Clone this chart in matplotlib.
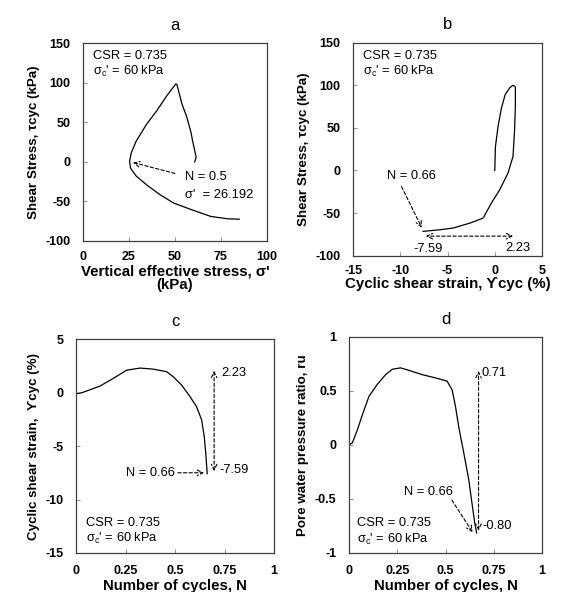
import matplotlib
matplotlib.use("Agg")
import matplotlib.pyplot as plt

plt.rcParams['font.family'] = ['Liberation Sans', 'DejaVu Sans']
plt.rcParams['axes.unicode_minus'] = False

# panel a: stress path
sig_a = [60.8, 61.6, 59.7, 58.8, 56.6, 53.9, 52.0, 51.1, 50.5, 45.6, 40.1, 34.6, 29.0,
         26.3, 25.4, 25.9, 29.0, 34.6, 41.9, 49.3, 58.5, 69.5, 78.7, 85.0]
tau_a = [0, 6, 26, 37, 56, 73, 90, 98, 98.5, 83.5, 64.4, 47.5, 26.3,
         11.4, 0.8, -8, -18, -29, -41.5, -52, -60, -69, -72, -72.5]

# panel b: stress-strain
gam_b = [0, 0.07, 0.35, 0.7, 1.1, 1.58, 1.93, 2.18, 2.18, 2.1, 1.93, 1.4, 0.53, -0.35,
         -1.23, -2.6, -4.4, -5.8, -7.59]
tau_b = [0, 28, 52, 73, 89, 97, 100, 98, 75, 48, 16.5, -3, -22.5, -38,
         -55.8, -61.6, -67.5, -69.5, -71.4]

# panel c: strain vs cycles
n_c = [0, 0.03, 0.054, 0.121, 0.188, 0.255, 0.323, 0.39, 0.457, 0.49, 0.533, 0.575,
       0.608, 0.634, 0.647, 0.655, 0.662]
gam_c = [-0.1, 0.0, 0.16, 0.62, 1.34, 2.1, 2.3, 2.2, 1.96, 1.5, 0.7, -0.37,
         -1.3, -2.55, -4.1, -5.7, -7.59]

# panel d: pore pressure ratio vs cycles
n_d = [0, 0.017, 0.043, 0.069, 0.103, 0.146, 0.189, 0.224, 0.267, 0.31, 0.379, 0.448,
       0.508, 0.534, 0.551, 0.568, 0.594, 0.62, 0.637, 0.651, 0.661]
ru_d = [0, 0.02, 0.14, 0.28, 0.45, 0.56, 0.65, 0.70, 0.713, 0.69, 0.65, 0.62,
        0.59, 0.51, 0.36, 0.17, -0.07, -0.32, -0.54, -0.72, -0.815]

fig = plt.figure(figsize=(5.64, 5.92), dpi=100)
axa = fig.add_axes([0.147, 0.593, 0.326, 0.334])
axb = fig.add_axes([0.626, 0.568, 0.335, 0.360])
axc = fig.add_axes([0.135, 0.066, 0.351, 0.361])
axd = fig.add_axes([0.619, 0.066, 0.342, 0.365])

tick_fs = 9
xlab_fs = 10.8
ylab_fs = 9.6
txt_fs = 9.3
title_pad = 9.5
dash_arrow = dict(arrowstyle='->', linestyle=(0, (3, 2)), lw=0.8, color='black')
dash_arrow2 = dict(arrowstyle='<->', linestyle=(0, (3, 2)), lw=0.8, color='black')
csr_txt = "CSR = 0.735\n$\\mathregular{\\sigma_c}$' = 60 kPa"

for ax in (axa, axb, axc, axd):
    for s in ax.spines.values():
        s.set_color('#404040')
        s.set_linewidth(0.9)
    ax.tick_params(direction='in', length=3, width=0.6, color='#808080',
                   labelsize=tick_fs)
    ax.tick_params(axis='y', pad=9)
    ax.tick_params(axis='x', pad=7)

# a
axa.plot(sig_a, tau_a, color='black', lw=0.9)
axa.set_xlim(0, 100)
axa.set_ylim(-100, 150)
axa.set_xticks([0, 25, 50, 75, 100])
axa.set_yticks([-100, -50, 0, 50, 100, 150])
axa.set_xlabel("Vertical effective stress, σ'\n(kPa)", fontsize=xlab_fs, fontweight='bold',
               linespacing=1.0, labelpad=1)
axa.set_ylabel("Shear Stress, τcyc (kPa)", fontsize=ylab_fs, fontweight='bold')
axa.set_title("a", fontsize=12, pad=title_pad)
axa.annotate("", xy=(25.8, 0), xytext=(51.5, -15.5), arrowprops=dash_arrow)
axa.text(55.5, -19, "N = 0.5", fontsize=txt_fs, va='center')
axa.text(55.5, -42, "σ'  = 26.192", fontsize=txt_fs, va='center')
axa.text(0.053, 0.965, csr_txt, transform=axa.transAxes, fontsize=txt_fs, va='top',
         linespacing=1.2)

# b
axb.plot(gam_b, tau_b, color='black', lw=0.9)
axb.set_xlim(-15, 5)
axb.set_ylim(-100, 150)
axb.set_xticks([-15, -10, -5, 0, 5])
axb.set_yticks([-100, -50, 0, 50, 100, 150])
axb.set_xlabel("Cyclic shear strain, ϒcyc (%)", fontsize=xlab_fs, fontweight='bold', labelpad=0)
axb.set_ylabel("Shear Stress, τcyc (kPa)", fontsize=ylab_fs, fontweight='bold')
axb.set_title("b", fontsize=12, pad=title_pad)
axb.annotate("", xy=(-7.6, -70), xytext=(-10.0, -16), arrowprops=dash_arrow)
axb.text(-8.8, -7, "N = 0.66", fontsize=txt_fs, ha='center', va='center')
axb.annotate("", xy=(-7.59, -77), xytext=(2.23, -77), arrowprops=dash_arrow2)
axb.text(-7.1, -92, "-7.59", fontsize=txt_fs, ha='center', va='center')
axb.text(2.4, -91, "2.23", fontsize=txt_fs, ha='center', va='center')
axb.text(0.05, 0.967, csr_txt, transform=axb.transAxes, fontsize=txt_fs, va='top',
         linespacing=1.2)

# c
axc.plot(n_c, gam_c, color='black', lw=0.9)
axc.set_xlim(0, 1)
axc.set_ylim(-15, 5)
axc.set_xticks([0, 0.25, 0.5, 0.75, 1], labels=['0', '0.25', '0.5', '0.75', '1'])
axc.set_yticks([-15, -10, -5, 0, 5])
axc.tick_params(axis='x', pad=9)
axc.set_xlabel("Number of cycles, N", fontsize=xlab_fs, fontweight='bold', labelpad=1)
axc.set_ylabel("Cyclic shear strain,  ϒcyc (%)", fontsize=ylab_fs, fontweight='bold')
axc.set_title("c", fontsize=12, pad=title_pad)
axc.annotate("", xy=(0.697, 2.3), xytext=(0.697, -7.6), arrowprops=dash_arrow2)
axc.text(0.735, 1.8, "2.23", fontsize=txt_fs, va='center')
axc.text(0.725, -7.2, "-7.59", fontsize=txt_fs, va='center')
axc.annotate("", xy=(0.66, -7.5), xytext=(0.50, -7.5), arrowprops=dash_arrow)
axc.text(0.50, -7.5, "N = 0.66", fontsize=txt_fs, ha='right', va='center')
axc.text(0.05, 0.17, csr_txt, transform=axc.transAxes, fontsize=txt_fs, va='top',
         linespacing=1.2)

# d
axd.plot(n_d, ru_d, color='black', lw=0.9)
axd.set_xlim(0, 1)
axd.set_ylim(-1, 1)
axd.set_xticks([0, 0.25, 0.5, 0.75, 1], labels=['0', '0.25', '0.5', '0.75', '1'])
axd.set_yticks([-1, -0.5, 0, 0.5, 1], labels=['-1', '-0.5', '0', '0.5', '1'])
axd.tick_params(axis='x', pad=9)
axd.set_xlabel("Number of cycles, N", fontsize=xlab_fs, fontweight='bold', labelpad=1)
axd.set_ylabel("Pore water pressure ratio, ru", fontsize=ylab_fs, fontweight='bold')
axd.set_title("d", fontsize=12, pad=title_pad)
axd.annotate("", xy=(0.671, 0.71), xytext=(0.671, -0.82), arrowprops=dash_arrow2)
axd.text(0.688, 0.67, "0.71", fontsize=txt_fs, va='center')
axd.text(0.69, -0.75, "-0.80", fontsize=txt_fs, va='center')
axd.annotate("", xy=(0.648, -0.83), xytext=(0.525, -0.49), arrowprops=dash_arrow)
axd.text(0.41, -0.44, "N = 0.66", fontsize=txt_fs, ha='center', va='center')
axd.text(0.04, 0.165, csr_txt, transform=axd.transAxes, fontsize=txt_fs, va='top',
         linespacing=1.2)

for ax in (axa, axb, axc, axd):
    plt.setp(ax.get_xticklabels() + ax.get_yticklabels(), fontweight='bold')

fig.savefig("out.png", dpi=100)
